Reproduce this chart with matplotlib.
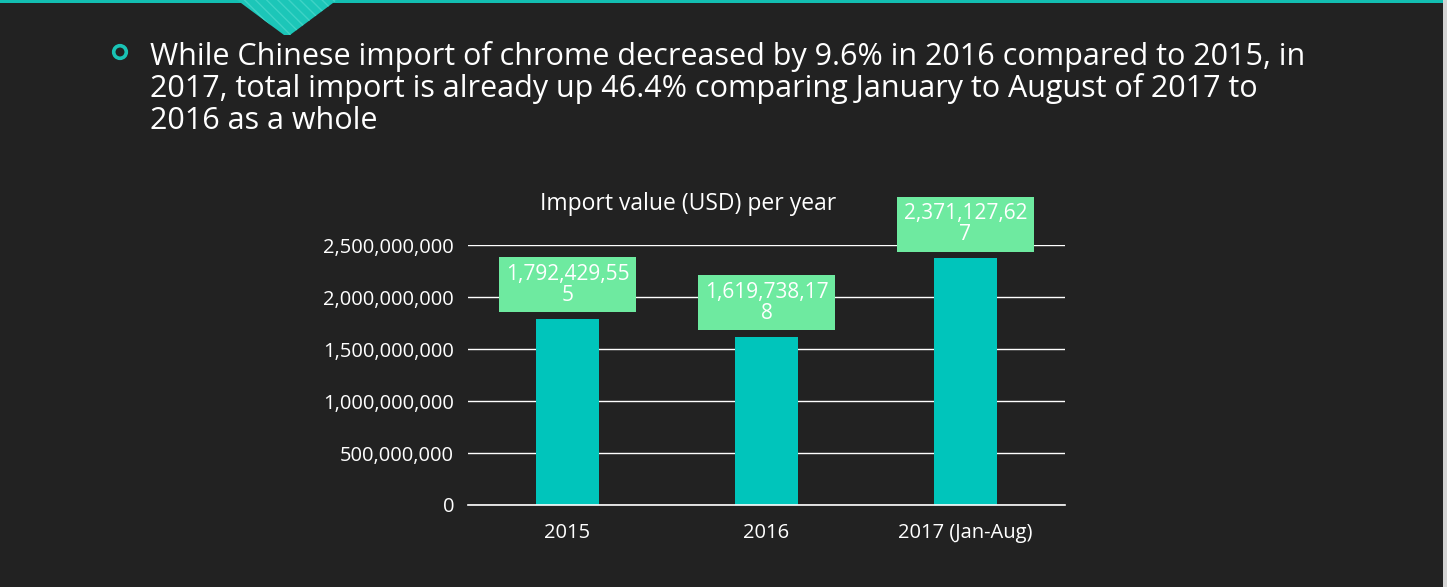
"""Chinese chrome import value per year, dark slide style bar chart."""

import matplotlib.pyplot as plt
from matplotlib.patches import Polygon, Circle, Rectangle
from matplotlib.ticker import FuncFormatter

years = ["2015", "2016", "2017 (Jan-Aug)"]
import_usd = [1792429555, 1619738178, 2371127627]
bar_labels = ["1,792,429,55\n5", "1,619,738,17\n8", "2,371,127,62\n7"]
y_ticks = [0, 500000000, 1000000000, 1500000000, 2000000000, 2500000000]

headline = ("While Chinese import of chrome decreased by 9.6% in 2016 compared to 2015, in\n"
            "2017, total import is already up 46.4% comparing January to August of 2017 to\n"
            "2016 as a whole")
chart_title = "Import value (USD) per year"

BG = "#222222"
TEAL = "#00C5BB"
GREEN = "#6EEAA0"
FONT = ["Open Sans", "DejaVu Sans"]

W, H = 1447, 587
plt.rcParams["font.family"] = FONT

fig = plt.figure(figsize=(W / 100, H / 100), dpi=100, facecolor=BG)

# slide decorations, in pixel-like figure coords
deco = fig.add_axes([0, 0, 1, 1])
deco.set_xlim(0, W)
deco.set_ylim(H, 0)
deco.axis("off")
deco.add_patch(Rectangle((0, 0), W, 2.5, color="#13BFB2", lw=0))
deco.add_patch(Polygon([(237, 0), (337, 0), (290, 35), (284, 35)], closed=True,
                       facecolor="#1CC6B8", edgecolor="#3FD3C6", hatch="\\\\\\", lw=0))
deco.add_patch(Rectangle((1443, 0), 4, H, color="#D4D4D4", lw=0))
deco.add_patch(Circle((120, 52), 6.3, facecolor="none", edgecolor="#19C3B5", lw=2.6))
deco.text(150, 41, headline, color="white", fontsize=22, va="top", ha="left",
          linespacing=1.06)
deco.text(688, 204, chart_title, color="white", fontsize=16.5, ha="center", va="center")

# the bar chart
ax = fig.add_axes([468 / W, (H - 505) / H, 597 / W, 260 / H])
ax.set_facecolor(BG)
x = range(len(years))
ax.bar(x, import_usd, width=0.317, color=TEAL, zorder=2)
ax.axhline(0, color="white", lw=1.2, zorder=3, clip_on=False)
ax.set_xlim(-0.5, len(years) - 0.5)
ax.set_ylim(0, 2500000000)
ax.set_yticks(y_ticks)
ax.yaxis.set_major_formatter(FuncFormatter(lambda v, _: f"{int(v):,}"))
ax.set_xticks(list(x))
ax.set_xticklabels(years)
ax.grid(axis="y", color="white", lw=1, zorder=1)
ax.tick_params(length=0, colors="white", labelsize=14.5)
ax.tick_params(axis="y", pad=10)
ax.tick_params(axis="x", pad=13)
for side in ["top", "right", "left", "bottom"]:
    ax.spines[side].set_visible(False)

for xi, val, lab in zip(x, import_usd, bar_labels):
    ax.annotate(lab, (xi, val), xytext=(0, 13), textcoords="offset pixels",
                ha="center", va="bottom", color="white", fontsize=15,
                linespacing=1.0, zorder=4,
                bbox=dict(boxstyle="square,pad=0.33", fc=GREEN, ec="none"))

fig.savefig("out.png", dpi=100, facecolor=BG)
